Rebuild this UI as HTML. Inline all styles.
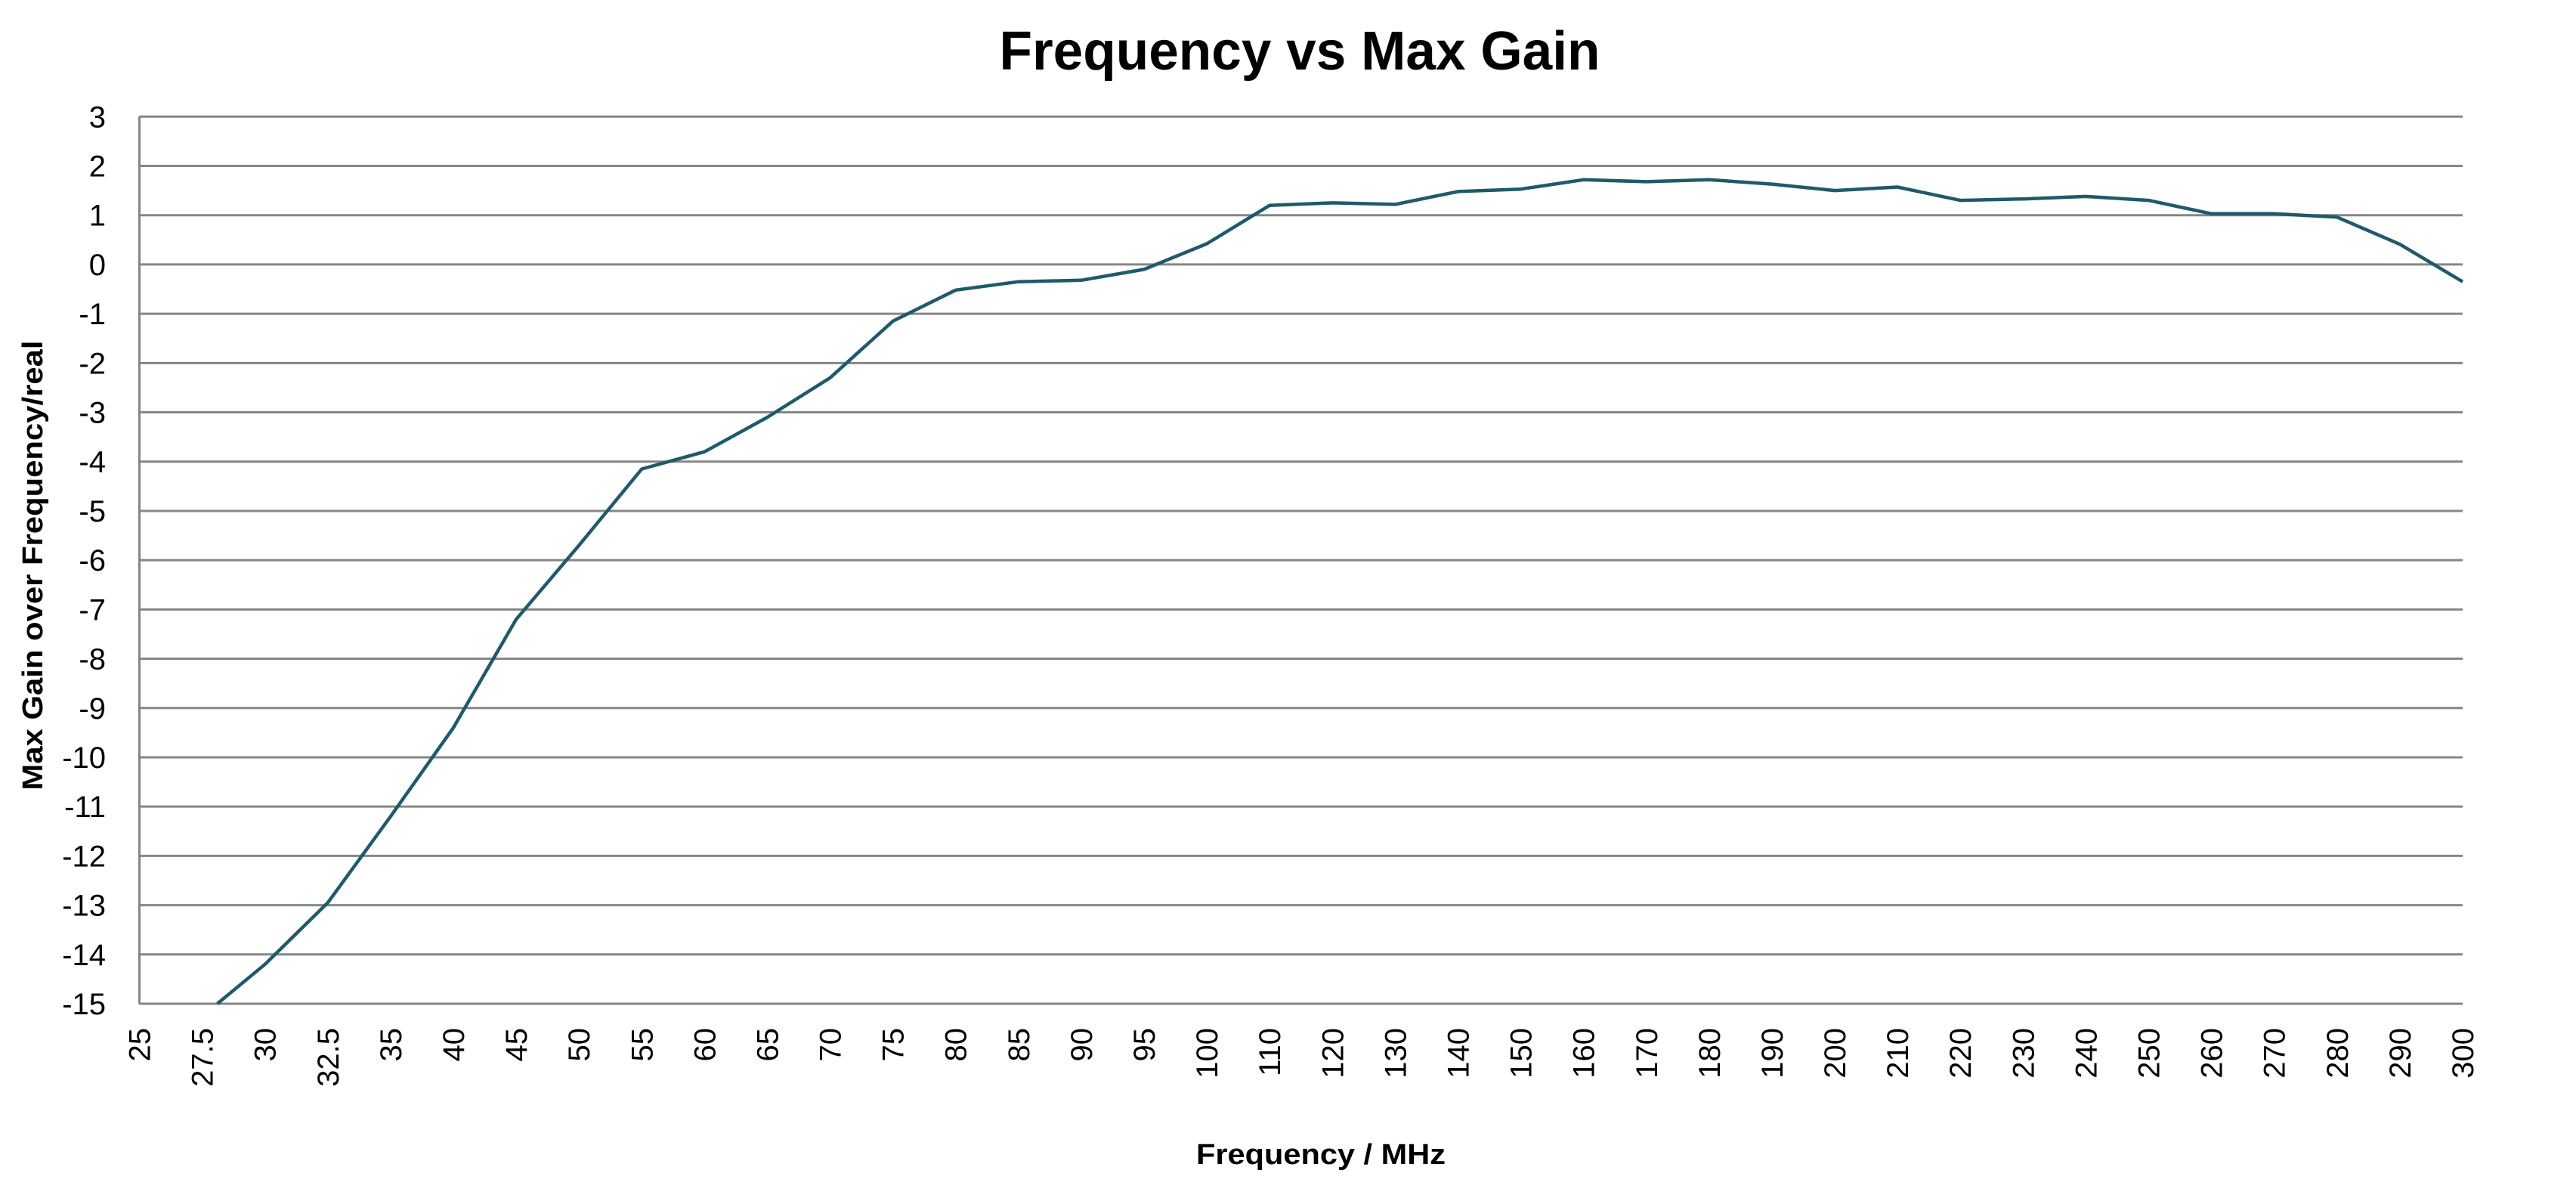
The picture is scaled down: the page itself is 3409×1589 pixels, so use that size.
<!DOCTYPE html>
<html><head><meta charset="utf-8"><style>html,body{margin:0;padding:0;background:#fff}svg{display:block}</style></head>
<body>
<svg xmlns="http://www.w3.org/2000/svg" width="3409" height="1589" viewBox="0 0 3409 1589" font-family="'Liberation Sans', sans-serif">
<rect width="3409" height="1589" fill="#fff"/>
<text x="1720" y="92" font-size="72" font-weight="bold" text-anchor="middle" textLength="795" lengthAdjust="spacingAndGlyphs">Frequency vs Max Gain</text>
<g id="grid" stroke="#868686" stroke-width="3"></g>
<g id="ylab" font-size="40" text-anchor="end"></g>
<g id="xlab" font-size="40"></g>
<polyline id="ln" fill="none" stroke="#1f5a6a" stroke-width="4.5" stroke-linejoin="round"/>
<text x="1748" y="1540" font-size="38" font-weight="bold" text-anchor="middle" textLength="330" lengthAdjust="spacingAndGlyphs">Frequency / MHz</text>
<text transform="translate(56,748) rotate(-90)" font-size="38" font-weight="bold" text-anchor="middle" textLength="595" lengthAdjust="spacingAndGlyphs">Max Gain over Frequency/real</text>
</svg>
<script>
var L=184.5,R=3259,T=154.3,B=1328,ns="http://www.w3.org/2000/svg";
var sp=(B-T)/18;
function Y(v){return T+(3-v)*sp;}
var g=document.getElementById('grid'),yl=document.getElementById('ylab'),xl=document.getElementById('xlab');
for(var v=3;v>=-15;v--){var l=document.createElementNS(ns,'line');l.setAttribute('x1',L);l.setAttribute('x2',R);l.setAttribute('y1',Y(v));l.setAttribute('y2',Y(v));g.appendChild(l);
var t=document.createElementNS(ns,'text');t.setAttribute('x',140);t.setAttribute('y',Y(v)+14);t.textContent=v;yl.appendChild(t);}
var a=document.createElementNS(ns,'line');a.setAttribute('x1',L);a.setAttribute('x2',L);a.setAttribute('y1',T);a.setAttribute('y2',B);g.appendChild(a);
var cats=[25,27.5,30,32.5,35];for(var i=40;i<=100;i+=5)cats.push(i);for(i=110;i<=300;i+=10)cats.push(i);
var dx=(R-L)/(cats.length-1);
cats.forEach(function(c,i){var t=document.createElementNS(ns,'text');var x=L+i*dx+14;t.setAttribute('transform','translate('+x+',1360) rotate(-90)');t.setAttribute('text-anchor','end');t.textContent=c;xl.appendChild(t);});
var d=[null,-15.0,-14.2,-12.95,-11.2,-9.4,-7.2,-5.7,-4.15,-3.8,-3.1,-2.3,-1.15,-0.52,-0.35,-0.32,-0.1,0.42,1.2,1.25,1.22,1.48,1.53,1.72,1.68,1.72,1.63,1.5,1.57,1.3,1.33,1.38,1.3,1.03,1.03,0.96,0.41,-0.35];
var pts=[];d.forEach(function(v,i){if(v!==null){var x=L+i*dx;if(i==1)x+=20;pts.push(x.toFixed(1)+','+Y(v).toFixed(1));}});
document.getElementById('ln').setAttribute('points',pts.join(' '));
</script>
</body></html>
